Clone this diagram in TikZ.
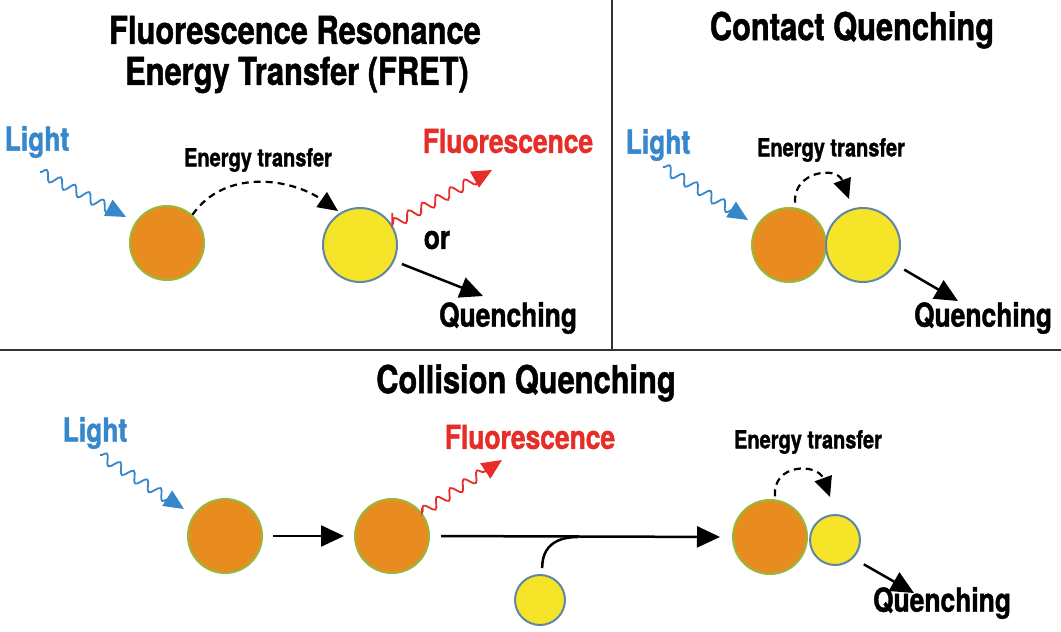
\documentclass[tikz,border=0pt]{standalone}
\usepackage{fontspec}
\setmainfont{TeX Gyre Heros}[FakeStretch=0.8,BoldFeatures={FakeBold=1.2}]
\usetikzlibrary{arrows.meta,decorations.pathmorphing}
\definecolor{lblue}{RGB}{55,135,205}
\definecolor{fred}{RGB}{230,45,40}
\definecolor{orfill}{RGB}{232,140,32}
\definecolor{oredge}{RGB}{150,185,60}
\definecolor{yefill}{RGB}{245,228,40}
\definecolor{yeedge}{RGB}{95,135,165}
\tikzset{
  title/.style={font=\fontsize{38.5}{40}\selectfont\bfseries},
  lab/.style={font=\fontsize{33}{34}\selectfont\bfseries},
  small/.style={font=\fontsize{25}{26}\selectfont\bfseries},
  orball/.style={circle,draw=oredge,line width=2pt,fill=orfill,inner sep=0pt,minimum size=#1},
  yeball/.style={circle,draw=yeedge,line width=2pt,fill=yefill,inner sep=0pt,minimum size=#1},
  tip/.style={-{Triangle[length=23pt,width=21pt]}},
  wave/.style={line width=1.8pt,decorate,decoration={snake,amplitude=5pt,segment length=16pt,post length=14pt}},
  bluewave/.style={wave,draw=lblue,-{Triangle[length=20pt,width=18pt,fill=lblue]}},
  redwave/.style={wave,draw=fred,-{Triangle[length=20pt,width=18pt,fill=fred]}},
  blackarrow/.style={tip,line width=2.5pt,black},
  dasharrow/.style={-{Triangle[length=20pt,width=18pt]},line width=2.2pt,dash pattern=on 7pt off 5pt},
  divider/.style={line width=2pt,black!80}
}
\begin{document}
\begin{tikzpicture}[x=1pt,y=-1pt]
\useasboundingbox (0,0) rectangle (1061,632);
% dividers
\coordinate (vt) at (612,0); \coordinate (vb) at (612,350);
\coordinate (hl) at (0,350); \coordinate (hr) at (1061,350);
\draw[divider] (vt) -- (vb);
\draw[divider] (hl) -- (hr);
% titles
\node[title] (t1a) at (295,30) {Fluorescence Resonance};
\node[title] (t1b) at (297,75) {Energy Transfer (FRET)};
\node[title] (t2) at (852,30) {Contact Quenching};
\node[title] (t3) at (526,383) {Collision Quenching};
% ---- FRET ----
\node[lab,text=lblue] (light1) at (37,142) {Light};
\node[orball=74pt] (d1) at (167,243) {};
\node[yeball=74pt] (y1) at (360,245) {};
\node[small] (et1) at (258,160) {Energy transfer};
\node[lab,text=fred] (fl1) at (508,141) {Fluorescence};
\node[lab] (or1) at (437,240) {or};
\node[lab] (q1) at (508,318) {Quenching};
\coordinate (w1s) at (40,172);
\coordinate (w1e) at (126,217);
\draw[bluewave] (w1s) -- (w1e);
\coordinate (e1) at (338,211);
\draw[dasharrow] (d1.48) to[out=55,in=145] (e1);
\coordinate (r1e) at (492,170);
\draw[redwave,shorten <=12pt] (y1.32) -- (r1e);
\coordinate (q1a) at (483,296);
\draw[blackarrow,shorten <=8pt] (y1.-25) -- (q1a);
% ---- Contact ----
\node[lab,text=lblue] (light2) at (658,145) {Light};
\node[orball=74pt] (d2) at (789,245) {};
\node[yeball=74pt] (y2) at (863,245) {};
\node[small] (et2) at (831,150) {Energy transfer};
\node[lab] (q2) at (983,318) {Quenching};
\coordinate (w2s) at (663,167);
\coordinate (w2e) at (748,220);
\draw[bluewave] (w2s) -- (w2e);
\coordinate (e2) at (849,199);
\draw[dasharrow,shorten <=5pt] (d2.80) to[out=95,in=110,looseness=1.7] (e2);
\coordinate (q2a) at (958,301);
\draw[blackarrow,shorten <=10pt] (y2.-31) -- (q2a);
% ---- Collision ----
\node[lab,text=lblue] (light3) at (95,433) {Light};
\node[orball=74pt] (d4) at (225,536) {};
\node[orball=74pt] (d5) at (392,536) {};
\node[orball=74pt] (d6) at (770,537) {};
\node[yeball=50pt] (y6) at (835,540) {};
\node[yeball=50pt] (y4) at (540,600) {};
\node[lab,text=fred] (fl3) at (530,437) {Fluorescence};
\node[small] (et3) at (808,442) {Energy transfer};
\node[lab] (q3) at (942,603) {Quenching};
\coordinate (w3s) at (100,455);
\coordinate (w3e) at (184,509);
\draw[bluewave] (w3s) -- (w3e);
\draw[blackarrow,shorten <=10pt,shorten >=10pt] (d4.east) -- (d5.west);
\coordinate (r3e) at (502,460);
\draw[redwave,shorten <=5pt] (d5.38) -- (r3e);
\draw[blackarrow,shorten <=11pt,shorten >=12pt] (d5.east) -- (d6.west);
\coordinate (mg) at (578,537);
\draw[line width=2.5pt,shorten <=6pt] (y4.85) .. controls (542,550) and (552,537) .. (mg);
\coordinate (e3) at (830,497);
\draw[dasharrow,shorten <=3pt] (d6.82) to[out=95,in=110,looseness=1.7] (e3);
\coordinate (q3a) at (914,593);
\draw[blackarrow,shorten <=12pt] (y6.-45) -- (q3a);
\end{tikzpicture}
\end{document}
